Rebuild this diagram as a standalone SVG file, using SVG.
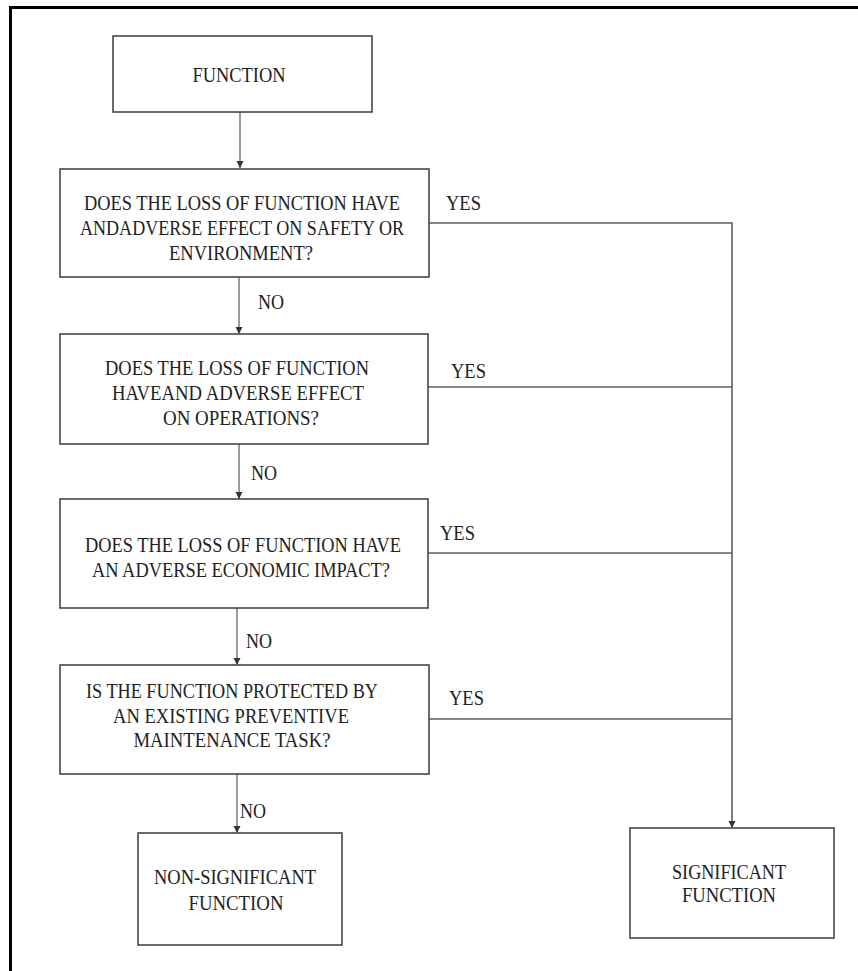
<svg xmlns="http://www.w3.org/2000/svg" width="858" height="971" viewBox="0 0 858 971">
<style>
.box{fill:#fff;stroke:#474747;stroke-width:1.6}
.t{font-family:"Liberation Serif","Times New Roman",serif;font-size:20px;fill:#222;text-anchor:middle}
.l{font-family:"Liberation Serif","Times New Roman",serif;font-size:20px;fill:#222}
.c{fill:none;stroke:#5a5a5a;stroke-width:1.2}
.y{fill:none;stroke:#5e5e5e;stroke-width:1.6}
</style>
<defs>
<marker id="ah" markerUnits="userSpaceOnUse" markerWidth="8" markerHeight="8" refX="7" refY="3.5" orient="auto">
<path d="M0,0 L7,3.5 L0,7 z" fill="#333"/>
</marker>
</defs>
<rect x="0" y="0" width="858" height="971" fill="#fff"/>
<g id="frame">
<rect x="9" y="6" width="849" height="3" fill="#000"/>
<rect x="9" y="6" width="3" height="965" fill="#000"/>
</g>
<g id="connectors">
<line class="c" x1="240" y1="112" x2="240" y2="168" marker-end="url(#ah)"/>
<line class="c" x1="239" y1="277" x2="239" y2="334" marker-end="url(#ah)"/>
<line class="c" x1="239" y1="444" x2="239" y2="499" marker-end="url(#ah)"/>
<line class="c" x1="237" y1="608" x2="237" y2="665" marker-end="url(#ah)"/>
<line class="c" x1="237" y1="774" x2="237" y2="833" marker-end="url(#ah)"/>
<polyline class="y" points="429,223 732,223 732,828" marker-end="url(#ah)"/>
<line class="y" x1="428" y1="387" x2="732" y2="387"/>
<line class="y" x1="428" y1="553" x2="732" y2="553"/>
<line class="y" x1="429" y1="719" x2="732" y2="719"/>
<text class="l" x="446" y="210" textLength="35" lengthAdjust="spacingAndGlyphs">YES</text>
<text class="l" x="451" y="378" textLength="35" lengthAdjust="spacingAndGlyphs">YES</text>
<text class="l" x="440" y="540" textLength="35" lengthAdjust="spacingAndGlyphs">YES</text>
<text class="l" x="449" y="705" textLength="35" lengthAdjust="spacingAndGlyphs">YES</text>
<text class="l" x="258" y="309" textLength="26" lengthAdjust="spacingAndGlyphs">NO</text>
<text class="l" x="251" y="480" textLength="26" lengthAdjust="spacingAndGlyphs">NO</text>
<text class="l" x="246" y="648" textLength="26" lengthAdjust="spacingAndGlyphs">NO</text>
<text class="l" x="240" y="818" textLength="26" lengthAdjust="spacingAndGlyphs">NO</text>
</g>
<g id="function">
<rect class="box" x="113" y="36" width="259" height="76"/>
<text class="t" x="239" y="82" textLength="93" lengthAdjust="spacingAndGlyphs">FUNCTION</text>
</g>
<g id="q1">
<rect class="box" x="60" y="169" width="369" height="108"/>
<text class="t" x="242" y="210" textLength="316" lengthAdjust="spacingAndGlyphs">DOES THE LOSS OF FUNCTION HAVE</text>
<text class="t" x="242" y="235" textLength="324" lengthAdjust="spacingAndGlyphs">ANDADVERSE EFFECT ON SAFETY OR</text>
<text class="t" x="241" y="260" textLength="144" lengthAdjust="spacingAndGlyphs">ENVIRONMENT?</text>
</g>
<g id="q2">
<rect class="box" x="60" y="334" width="368" height="110"/>
<text class="t" x="237" y="375" textLength="264" lengthAdjust="spacingAndGlyphs">DOES THE LOSS OF FUNCTION</text>
<text class="t" x="238" y="400" textLength="252" lengthAdjust="spacingAndGlyphs">HAVEAND ADVERSE EFFECT</text>
<text class="t" x="241" y="425" textLength="156" lengthAdjust="spacingAndGlyphs">ON OPERATIONS?</text>
</g>
<g id="q3">
<rect class="box" x="60" y="499" width="368" height="109"/>
<text class="t" x="243" y="552" textLength="316" lengthAdjust="spacingAndGlyphs">DOES THE LOSS OF FUNCTION HAVE</text>
<text class="t" x="241" y="577" textLength="298" lengthAdjust="spacingAndGlyphs">AN ADVERSE ECONOMIC IMPACT?</text>
</g>
<g id="q4">
<rect class="box" x="60" y="665" width="369" height="109"/>
<text class="t" x="232" y="698" textLength="292" lengthAdjust="spacingAndGlyphs">IS THE FUNCTION PROTECTED BY</text>
<text class="t" x="231" y="723" textLength="236" lengthAdjust="spacingAndGlyphs">AN EXISTING PREVENTIVE</text>
<text class="t" x="232" y="747" textLength="197" lengthAdjust="spacingAndGlyphs">MAINTENANCE TASK?</text>
</g>
<g id="nonsig">
<rect class="box" x="138" y="833" width="204" height="112"/>
<text class="t" x="235" y="884" textLength="162" lengthAdjust="spacingAndGlyphs">NON-SIGNIFICANT</text>
<text class="t" x="236" y="910" textLength="95" lengthAdjust="spacingAndGlyphs">FUNCTION</text>
</g>
<g id="sig">
<rect class="box" x="630" y="828" width="204" height="110"/>
<text class="t" x="729" y="879" textLength="114" lengthAdjust="spacingAndGlyphs">SIGNIFICANT</text>
<text class="t" x="729" y="902" textLength="94" lengthAdjust="spacingAndGlyphs">FUNCTION</text>
</g>
</svg>
